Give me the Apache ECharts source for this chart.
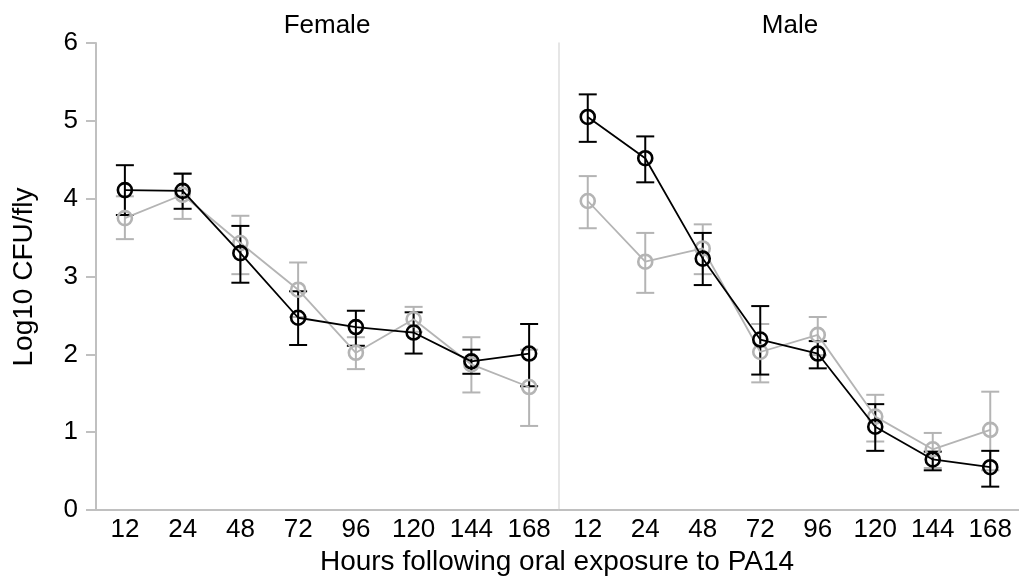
<!DOCTYPE html>
<html>
<head>
<meta charset="utf-8">
<title>Log10 CFU/fly</title>
<script src="https://cdn.jsdelivr.net/npm/echarts@6/dist/echarts.min.js"></script>
<style>
  html, body { margin: 0; padding: 0; background: #fff; }
  #chart { width: 1019px; height: 579px; }
</style>
</head>
<body>
<div id="chart"></div>
<script>
// 时间点（小时）
var hours = ['12', '24', '48', '72', '96', '120', '144', '168'];
var yTicks = [0, 1, 2, 3, 4, 5, 6];

// Female 黑色
var femaleBlack   = [4.11, 4.10, 3.30, 2.47, 2.35, 2.28, 1.91, 2.01];
var femaleBlackLo = [3.79, 3.87, 2.92, 2.12, 2.11, 2.01, 1.75, 1.59];
var femaleBlackHi = [4.43, 4.32, 3.65, 2.81, 2.56, 2.54, 2.06, 2.39];
// Female 灰色
var femaleGray   = [3.75, 4.05, 3.43, 2.83, 2.02, 2.45, 1.87, 1.58];
var femaleGrayLo = [3.48, 3.74, 3.03, 2.48, 1.81, 2.29, 1.51, 1.08];
var femaleGrayHi = [4.03, 4.33, 3.78, 3.18, 2.22, 2.61, 2.22, 2.06];
// Male 黑色
var maleBlack   = [5.05, 4.52, 3.23, 2.19, 2.01, 1.07, 0.65, 0.55];
var maleBlackLo = [4.73, 4.21, 2.89, 1.74, 1.82, 0.76, 0.51, 0.30];
var maleBlackHi = [5.34, 4.80, 3.56, 2.62, 2.17, 1.36, 0.75, 0.76];
// Male 灰色
var maleGray   = [3.97, 3.19, 3.36, 2.03, 2.25, 1.20, 0.78, 1.03];
var maleGrayLo = [3.62, 2.79, 3.03, 1.64, 1.99, 0.88, 0.54, 0.51];
var maleGrayHi = [4.29, 3.56, 3.67, 2.39, 2.48, 1.48, 0.99, 1.52];

var BLACK = '#000000';
var GRAY = '#b4b4b4';
var AXIS = '#c0c0c0';
var FONT = '"Liberation Sans", Arial, Helvetica, sans-serif';

// 误差线数据 [index, low, high]
function errData(lo, hi) {
    var out = [];
    for (var i = 0; i < lo.length; i++) {
        out.push([i, lo[i], hi[i]]);
    }
    return out;
}

function errorSeries(idx, lo, hi, color) {
    return {
        type: 'custom',
        xAxisIndex: idx,
        yAxisIndex: idx,
        z: 2,
        silent: true,
        data: errData(lo, hi),
        renderItem: function (params, api) {
            var top = api.coord([api.value(0), api.value(2)]);
            var bot = api.coord([api.value(0), api.value(1)]);
            var half = 9;
            var st = { stroke: color, lineWidth: 2 };
            return {
                type: 'group',
                children: [
                    { type: 'line', shape: { x1: top[0], y1: top[1], x2: bot[0], y2: bot[1] }, style: st },
                    { type: 'line', shape: { x1: top[0] - half, y1: top[1], x2: top[0] + half, y2: top[1] }, style: st },
                    { type: 'line', shape: { x1: bot[0] - half, y1: bot[1], x2: bot[0] + half, y2: bot[1] }, style: st }
                ]
            };
        }
    };
}

function lineSeries(idx, data, color, z) {
    return {
        type: 'line',
        xAxisIndex: idx,
        yAxisIndex: idx,
        z: z,
        data: data,
        symbol: 'circle',
        symbolSize: 14,
        silent: true,
        lineStyle: { color: color, width: 1.8 },
        itemStyle: { color: 'rgba(0,0,0,0)', borderColor: color, borderWidth: 2.6 }
    };
}

function xAxisCfg(idx) {
    return {
        type: 'category',
        gridIndex: idx,
        data: hours,
        boundaryGap: true,
        axisLine: { show: true, lineStyle: { color: AXIS, width: 2 } },
        axisTick: { show: false },
        axisLabel: { color: '#000', fontSize: 26, fontFamily: FONT, margin: 7, lineHeight: 26, interval: 0 },
        splitLine: { show: false }
    };
}

var chart = echarts.init(document.getElementById('chart'));

var option = {
    backgroundColor: '#fff',
    animation: false,
    grid: [
        { left: 96, top: 43, width: 462, height: 467 },
        { left: 559, top: 43, width: 463, height: 467 }
    ],
    xAxis: [xAxisCfg(0), xAxisCfg(1)],
    yAxis: [
        {
            type: 'value',
            gridIndex: 0,
            min: yTicks[0],
            max: yTicks[yTicks.length - 1],
            interval: 1,
            axisLine: { show: true, lineStyle: { color: AXIS, width: 2 } },
            axisTick: { show: true, length: 10, lineStyle: { color: AXIS, width: 2 } },
            axisLabel: { color: '#000', fontSize: 26, fontFamily: FONT, margin: 18 },
            splitLine: { show: false }
        },
        {
            type: 'value',
            gridIndex: 1,
            min: yTicks[0],
            max: yTicks[yTicks.length - 1],
            interval: 1,
            axisLine: { show: true, lineStyle: { color: '#dedede', width: 1.5 } },
            axisTick: { show: false },
            axisLabel: { show: false },
            splitLine: { show: false }
        }
    ],
    graphic: [
        { type: 'text', x: 327, y: 25.5, z: 10,
          style: { text: 'Female', fill: '#000', font: '26px ' + FONT, textAlign: 'center', textVerticalAlign: 'middle' } },
        { type: 'text', x: 790, y: 25.5, z: 10,
          style: { text: 'Male', fill: '#000', font: '26px ' + FONT, textAlign: 'center', textVerticalAlign: 'middle' } },
        { type: 'text', x: 557, y: 562, z: 10,
          style: { text: 'Hours following oral exposure to PA14', fill: '#000', font: '28px ' + FONT, textAlign: 'center', textVerticalAlign: 'middle' } },
        { type: 'text', x: 24, y: 277, rotation: Math.PI / 2, z: 10,
          style: { text: 'Log10 CFU/fly', fill: '#000', font: '28px ' + FONT, textAlign: 'center', textVerticalAlign: 'middle' } }
    ],
    series: [
        errorSeries(0, femaleGrayLo, femaleGrayHi, GRAY),
        lineSeries(0, femaleGray, GRAY, 3),
        errorSeries(0, femaleBlackLo, femaleBlackHi, BLACK),
        lineSeries(0, femaleBlack, BLACK, 5),
        errorSeries(1, maleGrayLo, maleGrayHi, GRAY),
        lineSeries(1, maleGray, GRAY, 3),
        errorSeries(1, maleBlackLo, maleBlackHi, BLACK),
        lineSeries(1, maleBlack, BLACK, 5)
    ]
};

chart.setOption(option);
</script>
</body>
</html>
